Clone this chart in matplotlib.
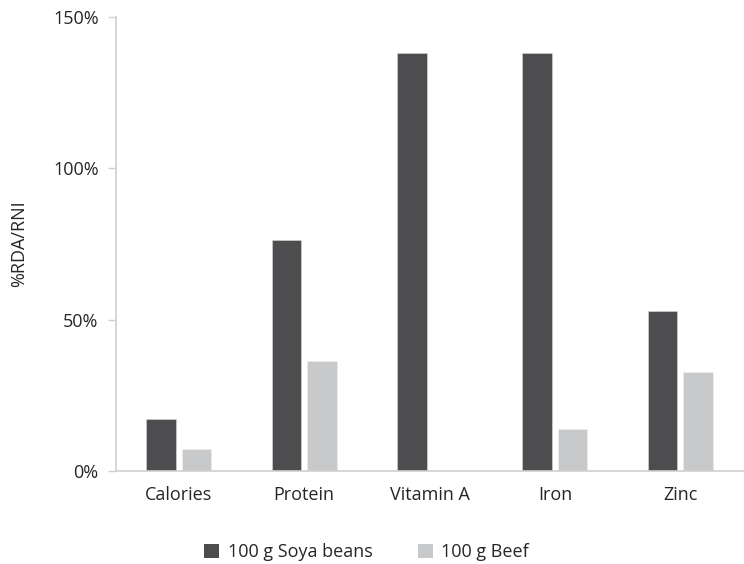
import matplotlib
matplotlib.use("Agg")
import matplotlib.pyplot as plt
import numpy as np
from matplotlib.ticker import FuncFormatter
from matplotlib.patches import Patch

categories = ["Calories", "Protein", "Vitamin A", "Iron", "Zinc"]
soya = [17.1, 76.3, 138.2, 138.2, 52.9]
beef = [7.3, 36.3, 0.0, 14.0, 32.8]
series_names = ["100 g Soya beans", "100 g Beef"]
yticks = [0, 50, 100, 150]

dark = "#4d4d4f"
light = "#c8c9cb"
axis_col = "#d0d0d0"
text_col = "#262626"
fs = 13

plt.rcParams["font.family"] = ["Open Sans", "DejaVu Sans"]

fig = plt.figure(figsize=(7.44, 5.64), dpi=100)
ax = fig.add_axes([116 / 744, 1 - 471 / 564, 627 / 744, (471 - 17) / 564])

x = np.arange(len(categories))
w = 0.237
off = 0.141
ax.bar(x - off, soya, width=w, color=dark, edgecolor="#d8d8d8", linewidth=0.4)
ax.bar(x + off, beef, width=w, color=light, edgecolor="#eeeeee", linewidth=0.4)

ax.set_xlim(-0.5, len(categories) - 0.5)
ax.set_ylim(0, 150)
ax.set_yticks(yticks)
ax.yaxis.set_major_formatter(FuncFormatter(lambda v, p: f"{v:.0f}%"))
ax.set_xticks(x)
ax.set_xticklabels(categories)

for s in ["top", "right"]:
    ax.spines[s].set_visible(False)
for s in ["left", "bottom"]:
    ax.spines[s].set_color(axis_col)
    ax.spines[s].set_linewidth(1.2)

ax.tick_params(axis="y", length=5.5, width=1, color=axis_col, pad=7,
               labelsize=fs, labelcolor=text_col)
ax.tick_params(axis="x", length=0, pad=10.5, labelsize=fs, labelcolor=text_col)

ax.set_ylabel("%RDA/RNI", fontsize=fs, color=text_col, labelpad=18)

handles = [Patch(facecolor=dark, edgecolor="none"), Patch(facecolor=light, edgecolor="none")]
fig.legend(handles, series_names, loc="center", bbox_to_anchor=(0.493, 1 - 552 / 564),
           ncol=2, frameon=False, fontsize=fs, handlelength=0.83, handleheight=0.8,
           handletextpad=0.45, columnspacing=2.55, labelcolor=text_col)

fig.savefig("out.png", dpi=100, facecolor="white")
